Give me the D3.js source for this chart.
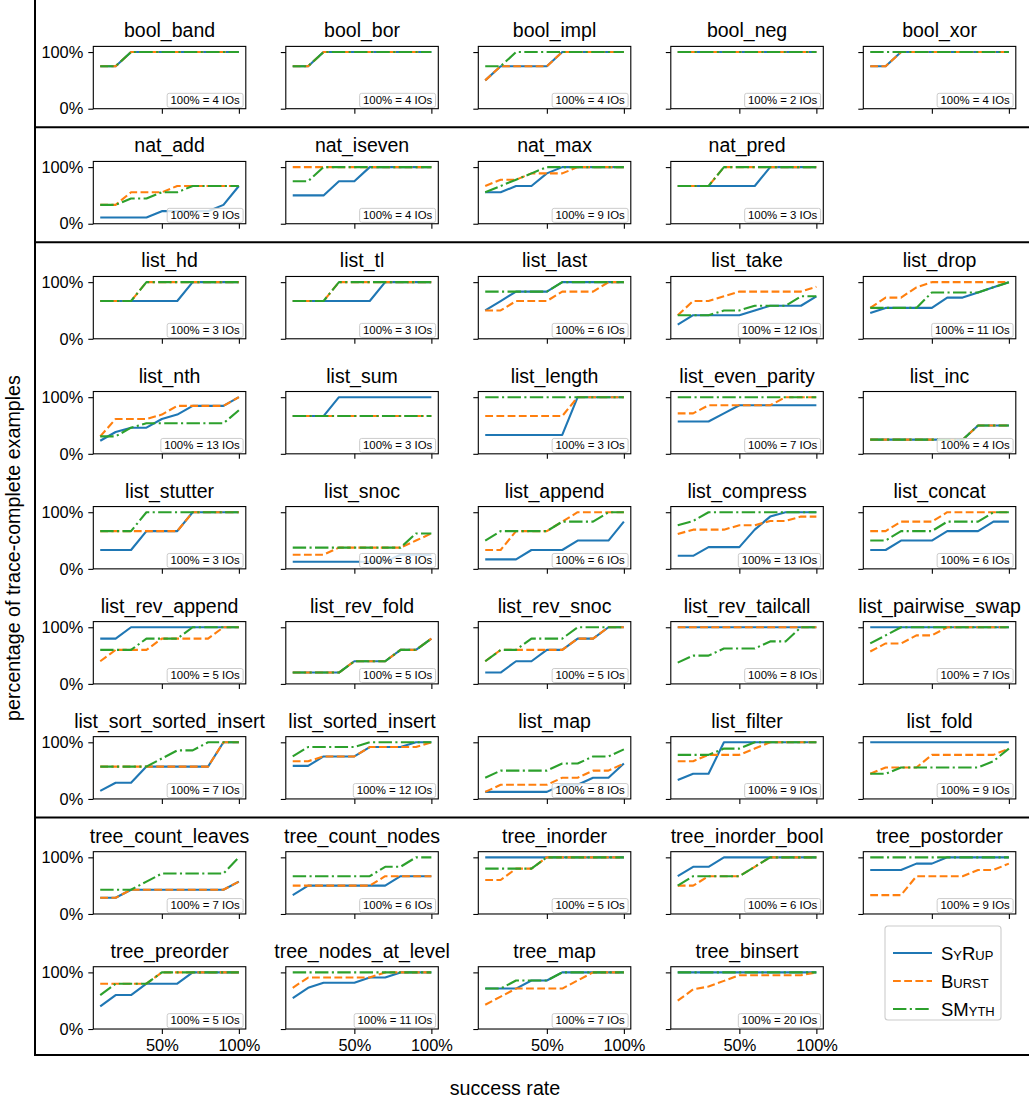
<!DOCTYPE html>
<html>
<head>
<meta charset="utf-8">
<script src="https://cdn.jsdelivr.net/npm/d3@7"></script>
<style>
  body { margin: 0; background: #fff; }
  svg { font-family: "Liberation Sans", Arial, Helvetica, sans-serif; }
</style>
</head>
<body>
<svg id="chart" width="1029" height="1101"></svg>
<script>
// x positions of every series (success rate)
const successRates = [0.1, 0.2, 0.3, 0.4, 0.5, 0.6, 0.7, 0.8, 0.9, 1.0];
const xTickValues = [0.5, 1.0];
const xTickLabels = ["50%", "100%"];
const yTickValues = [0, 1];
const yTickLabels = ["0%", "100%"];

const methods = ["SyRup", "Burst", "SMyth"];

// benchmarks, in reading order; rowSizes says how many go on each row
const tasks = [
  "bool_band", "bool_bor", "bool_impl", "bool_neg", "bool_xor",
  "nat_add", "nat_iseven", "nat_max", "nat_pred",
  "list_hd", "list_tl", "list_last", "list_take", "list_drop",
  "list_nth", "list_sum", "list_length", "list_even_parity", "list_inc",
  "list_stutter", "list_snoc", "list_append", "list_compress", "list_concat",
  "list_rev_append", "list_rev_fold", "list_rev_snoc", "list_rev_tailcall", "list_pairwise_swap",
  "list_sort_sorted_insert", "list_sorted_insert", "list_map", "list_filter", "list_fold",
  "tree_count_leaves", "tree_count_nodes", "tree_inorder", "tree_inorder_bool", "tree_postorder",
  "tree_preorder", "tree_nodes_at_level", "tree_map", "tree_binsert"
];
const rowSizes = [5, 4, 5, 5, 5, 5, 5, 5, 4];
const groupStarts = [1, 2, 7]; // rows that begin a new group (bool | nat | list | tree)

// number of IOs that makes 100% for each benchmark
const ioCounts = [
  4, 4, 4, 2, 4,
  9, 4, 9, 3,
  3, 3, 6, 12, 11,
  13, 3, 3, 7, 4,
  3, 8, 6, 13, 6,
  5, 5, 5, 8, 7,
  7, 12, 8, 9, 9,
  7, 6, 5, 6, 9,
  5, 11, 7, 20
];

// trace-complete examples (count out of ioCounts) at each success rate
const syrup = [
  [3,3,4,4,4,4,4,4,4,4], [3,3,4,4,4,4,4,4,4,4], [2,3,3,3,3,4,4,4,4,4], [2,2,2,2,2,2,2,2,2,2], [3,3,4,4,4,4,4,4,4,4],
  [1,1,1,1,2,2,2,2,3,6], [2,2,2,3,3,4,4,4,4,4], [5,5,6,6,8,9,9,9,9,9], [2,2,2,2,2,2,3,3,3,3],
  [2,2,2,2,2,2,3,3,3,3], [2,2,2,2,2,2,3,3,3,3], [3,4,5,5,5,6,6,6,6,6], [3,5,5,5,5,6,7,7,7,9], [5,6,6,6,6,8,8,9,10,11],
  [3,5,6,6,8,9,11,11,11,13], [2,2,2,3,3,3,3,3,3,3], [1,1,1,1,1,1,3,3,3,3], [4,4,4,5,6,6,6,6,6,6], [1,1,1,1,1,1,1,2,2,2],
  [1,1,1,2,2,2,3,3,3,3], [1,1,1,1,1,1,1,2,2,2], [1,1,1,2,2,2,3,3,3,5], [3,3,5,5,5,9,12,13,13,13], [2,2,3,3,3,4,4,4,5,5],
  [4,4,5,5,5,5,5,5,5,5], [1,1,1,1,2,2,2,3,3,4], [1,1,2,2,3,3,4,4,5,5], [8,8,8,8,8,8,8,8,8,8], [7,7,7,7,7,7,7,7,7,7],
  [1,2,2,4,4,4,4,4,7,7], [7,7,9,9,9,11,11,11,12,12], [1,1,1,1,1,2,2,3,3,5], [3,4,4,9,9,9,9,9,9,9], [9,9,9,9,9,9,9,9,9,9],
  [2,2,3,3,3,3,3,3,3,4], [2,3,3,3,3,3,3,4,4,4], [5,5,5,5,5,5,5,5,5,5], [4,5,5,6,6,6,6,6,6,6], [7,7,7,8,8,9,9,9,9,9],
  [2,3,3,4,4,4,5,5,5,5], [6,8,9,9,9,10,10,11,11,11], [5,5,5,6,6,7,7,7,7,7], [20,20,20,20,20,20,20,20,20,20]
];
const burst = [
  [3,3,4,4,4,4,4,4,4,4], [3,3,4,4,4,4,4,4,4,4], [2,3,3,3,3,4,4,4,4,4], [2,2,2,2,2,2,2,2,2,2], [3,3,4,4,4,4,4,4,4,4],
  [3,3,5,5,5,6,6,6,6,6], [4,4,4,4,4,4,4,4,4,4], [6,7,7,8,8,8,9,9,9,9], [2,2,2,3,3,3,3,3,3,3],
  [2,2,2,3,3,3,3,3,3,3], [2,2,2,3,3,3,3,3,3,3], [3,3,4,4,4,5,5,5,6,6], [5,8,8,9,10,10,10,10,10,11], [6,8,8,10,11,11,11,11,11,11],
  [4,8,8,8,9,11,11,11,11,13], [2,2,2,2,2,2,2,2,2,2], [2,2,2,2,2,2,3,3,3,3], [5,5,6,6,6,6,6,7,7,7], [1,1,1,1,1,1,1,2,2,2],
  [2,2,2,2,2,2,3,3,3,3], [2,2,2,3,3,3,3,3,4,5], [2,2,4,4,4,5,6,6,6,6], [8,9,9,9,10,10,11,11,12,12], [4,4,5,5,5,6,6,6,6,6],
  [2,3,3,3,4,4,4,4,5,5], [1,1,1,1,2,2,2,3,3,4], [2,3,3,3,3,3,4,4,5,5], [8,8,8,8,8,8,8,8,8,8], [4,5,5,6,6,7,7,7,7,7],
  [4,4,4,4,4,4,4,4,7,7], [8,8,9,9,9,11,11,11,11,12], [1,2,2,2,2,3,3,4,4,5], [6,6,7,7,7,8,9,9,9,9], [4,5,5,5,7,7,7,7,7,8],
  [2,2,3,3,3,3,3,3,3,4], [3,3,3,3,3,3,4,4,4,4], [3,3,4,4,5,5,5,5,5,5], [3,3,4,4,4,5,6,6,6,6], [3,3,3,6,6,6,6,7,7,8],
  [4,4,4,4,5,5,5,5,5,5], [8,10,10,10,10,10,11,11,11,11], [3,4,5,5,5,5,6,7,7,7], [10,14,15,17,19,19,19,19,19,20]
];
const smyth = [
  [3,3,4,4,4,4,4,4,4,4], [3,3,4,4,4,4,4,4,4,4], [3,3,4,4,4,4,4,4,4,4], [2,2,2,2,2,2,2,2,2,2], [4,4,4,4,4,4,4,4,4,4],
  [3,3,4,4,5,5,6,6,6,6], [3,3,4,4,4,4,4,4,4,4], [5,6,7,8,9,9,9,9,9,9], [2,2,2,3,3,3,3,3,3,3],
  [2,2,2,3,3,3,3,3,3,3], [2,2,2,3,3,3,3,3,3,3], [5,5,5,5,5,6,6,6,6,6], [5,5,5,6,6,7,7,7,9,9], [6,6,6,6,9,9,9,9,10,11],
  [4,4,6,7,7,7,7,7,7,10], [2,2,2,2,2,2,2,2,2,2], [3,3,3,3,3,3,3,3,3,3], [7,7,7,7,7,7,7,7,7,7], [1,1,1,1,1,1,1,2,2,2],
  [2,2,2,3,3,3,3,3,3,3], [3,3,3,3,3,3,3,3,5,5], [3,4,4,4,4,5,5,5,6,6], [10,11,13,13,13,13,13,13,13,13], [3,3,4,4,4,5,5,5,6,6],
  [3,3,3,4,4,4,5,5,5,5], [1,1,1,1,2,2,2,3,3,4], [2,3,3,4,4,4,5,5,5,5], [3,4,4,5,5,5,6,6,8,8], [5,6,7,7,7,7,7,7,7,7],
  [4,4,4,4,5,6,6,7,7,7], [9,11,11,11,11,12,12,12,12,12], [3,4,4,4,4,5,5,6,6,7], [7,7,7,8,8,9,9,9,9,9], [4,4,5,5,5,5,5,5,6,8],
  [3,3,3,4,5,5,5,5,5,7], [4,4,4,4,4,4,5,5,6,6], [4,4,4,4,5,5,5,5,5,5], [3,4,4,4,4,5,6,6,6,6], [9,9,9,9,9,9,9,9,9,9],
  [3,4,4,4,5,5,5,5,5,5], [11,11,11,11,11,11,11,11,11,11], [5,5,6,6,6,7,7,7,7,7], [20,20,20,20,20,20,20,20,20,20]
];

// ---- layout ----
const colX0 = 93.3, colStep = 192.5, panelW = 152.5;
const rowY0 = 46.4, rowStep = 115.04, panelH = 62.3;
const lineW = 2.1;
const styles = [
  { color: "#1f77b4", dash: null },
  { color: "#ff7f0e", dash: "7.8,3.4" },
  { color: "#2ca02c", dash: "13.4,3.4,2.1,3.4" }
];
const seriesData = [syrup, burst, smyth];

const svg = d3.select("#chart");

const x = d3.scaleLinear().domain([0.055, 1.045]).range([0, panelW]);
const y = d3.scaleLinear().domain([0, 1.1]).range([panelH, 0]);

const line = d3.line()
  .x((d, i) => x(successRates[i]))
  .y(d => y(d));

// row / column of each task
const cells = [];
rowSizes.forEach((n, r) => {
  for (let c = 0; c < n; c++) cells.push({ r, c });
});
const nRows = rowSizes.length;

tasks.forEach((name, i) => {
  const { r, c } = cells[i];
  const g = svg.append("g")
    .attr("transform", `translate(${colX0 + c * colStep},${rowY0 + r * rowStep})`);

  // series, drawn SyRup -> Burst -> SMyth
  seriesData.forEach((series, k) => {
    const vals = series[i].map(v => v / ioCounts[i]);
    g.append("path")
      .attr("d", line(vals))
      .attr("fill", "none")
      .attr("stroke", styles[k].color)
      .attr("stroke-width", lineW)
      .attr("stroke-dasharray", styles[k].dash)
      .attr("stroke-linejoin", "round");
  });

  // axes
  const showX = r === nRows - 1;
  const xa = g.append("g")
    .attr("transform", `translate(0,${panelH})`)
    .call(d3.axisBottom(x).tickValues(xTickValues).tickSize(5).tickPadding(5)
      .tickFormat((d, j) => showX ? xTickLabels[j] : ""));
  const ya = g.append("g")
    .call(d3.axisLeft(y).tickValues(yTickValues).tickSize(5).tickPadding(5)
      .tickFormat((d, j) => c === 0 ? yTickLabels[j] : ""));
  [xa, ya].forEach(a => {
    a.select(".domain").remove();
    a.attr("font-family", null).attr("font-size", null);
    a.selectAll("line").attr("stroke", "#000").attr("stroke-width", 1.1);
    a.selectAll("text").attr("fill", "#000").style("font-size", "16.4px");
  });

  g.append("rect")
    .attr("width", panelW).attr("height", panelH)
    .attr("fill", "none").attr("stroke", "#000").attr("stroke-width", 1.1);

  g.append("text")
    .attr("x", panelW / 2).attr("y", -9)
    .attr("text-anchor", "middle")
    .style("font-size", "19.5px")
    .text(name);

  // "100% = N IOs" note, bottom right
  const note = g.append("g");
  const nt = note.append("text")
    .style("font-size", "11.4px")
    .attr("text-anchor", "end")
    .text(`100% = ${ioCounts[i]} IOs`);
  const tw = nt.node().getComputedTextLength();
  const bw = tw + 6.6, bh = 14;
  const bx = panelW - 2.7 - bw, by = panelH - 1.4 - bh;
  note.insert("rect", "text")
    .attr("x", bx).attr("y", by).attr("width", bw).attr("height", bh)
    .attr("rx", 2)
    .attr("fill", "#fff").attr("fill-opacity", 0.8)
    .attr("stroke", "#cccccc").attr("stroke-width", 1);
  nt.attr("x", bx + bw - 3.3).attr("y", by + bh - 3.2);
});

// group frame
const frame = svg.append("g").attr("stroke", "#000").attr("stroke-width", 2);
frame.append("line").attr("x1", 35).attr("x2", 35).attr("y1", 0).attr("y2", 1056);
frame.append("line").attr("x1", 34).attr("x2", 1029).attr("y1", 1055).attr("y2", 1055);
groupStarts.forEach(r => {
  const yy = rowY0 + (r - 1) * rowStep + panelH + 18.5;
  frame.append("line").attr("x1", 35).attr("x2", 1029).attr("y1", yy).attr("y2", yy);
});

// axis titles
svg.append("text")
  .attr("x", 505).attr("y", 1095)
  .attr("text-anchor", "middle")
  .style("font-size", "19.7px")
  .text("success rate");
svg.append("text")
  .attr("transform", "translate(20,548) rotate(-90)")
  .attr("text-anchor", "middle")
  .style("font-size", "19.7px")
  .text("percentage of trace-complete examples");

// legend
const lg = svg.append("g").attr("transform", "translate(885,926)");
lg.append("rect")
  .attr("width", 116).attr("height", 94).attr("rx", 3)
  .attr("fill", "#fff").attr("stroke", "#cccccc").attr("stroke-width", 1.1);
methods.forEach((m, k) => {
  const yy = 27 + k * 28;
  lg.append("line")
    .attr("x1", 8).attr("x2", 47).attr("y1", yy).attr("y2", yy)
    .attr("stroke", styles[k].color).attr("stroke-width", lineW)
    .attr("stroke-dasharray", styles[k].dash);
  lg.append("text")
    .attr("x", 56).attr("y", yy + 6.5)
    .style("font-size", "18.5px")
    .style("font-variant", "small-caps")
    .text(m);
});
</script>
</body>
</html>
